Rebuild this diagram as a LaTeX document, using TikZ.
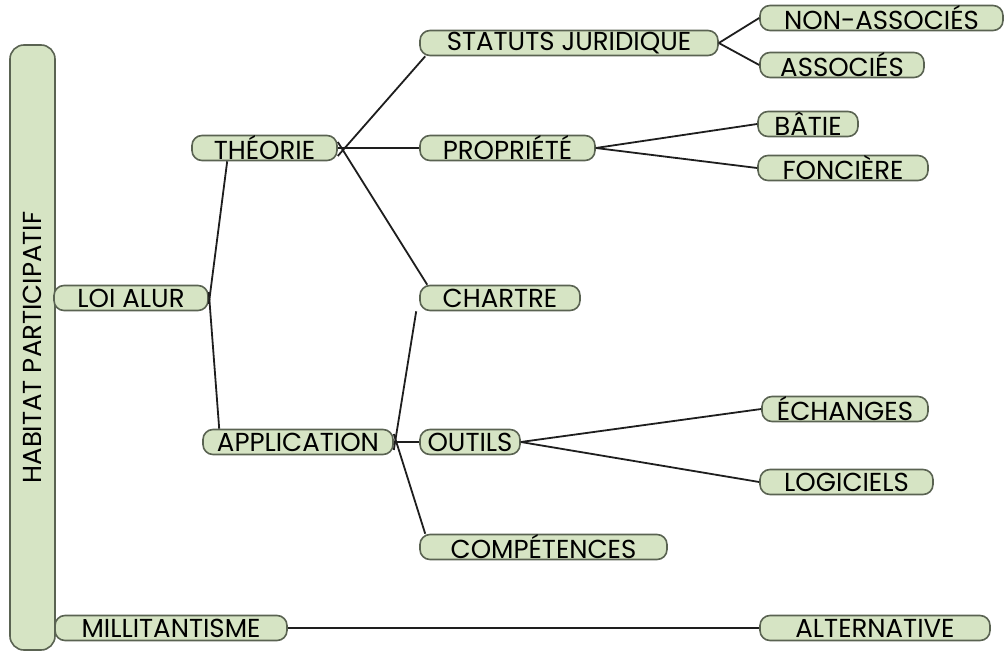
\documentclass[tikz,border=0pt]{standalone}
\usepackage{fontspec}
\setmainfont{Poppins}
\definecolor{boxfill}{HTML}{D6E4C4}
\definecolor{boxline}{HTML}{5A6352}
\definecolor{conn}{HTML}{1E1E1E}
\begin{document}
\begin{tikzpicture}[x=1pt,y=-1pt,
  tbox/.style={draw=boxline, fill=boxfill, line width=1.6pt, rounded corners=10pt,
    minimum height=25pt, inner sep=0pt, font=\fontsize{26}{26}\selectfont, text=black},
  link/.style={draw=conn, line width=1.8pt}]
\useasboundingbox (0,0) rectangle (1008,655);
% root
\node[tbox, minimum width=45pt, minimum height=605pt, rounded corners=14pt] (hp) at (32.5,347.5) {};
\node[rotate=90, font=\fontsize{26}{26}\selectfont] (hpt) at (hp.center) {HABITAT PARTICIPATIF};
% level 1
\node[tbox, minimum width=154pt] (loi) at (131,298) {LOI ALUR};
\node[tbox, minimum width=232pt] (mil) at (171,628) {MILLITANTISME};
% level 2
\node[tbox, minimum width=145pt] (theo) at (264.5,148) {THÉORIE};
\node[tbox, minimum width=190pt] (app) at (298,442) {APPLICATION};
% level 3
\node[tbox, minimum width=298pt] (stat) at (569,43) {STATUTS JURIDIQUE};
\node[tbox, minimum width=175pt] (prop) at (507.5,148) {PROPRIÉTÉ};
\node[tbox, minimum width=160pt] (chart) at (500,298) {CHARTRE};
\node[tbox, minimum width=100pt] (out) at (470,442) {OUTILS};
\node[tbox, minimum width=247pt] (comp) at (543.5,547) {COMPÉTENCES};
% level 4
\node[tbox, minimum width=243pt] (non) at (881.5,18) {NON-ASSOCIÉS};
\node[tbox, minimum width=164pt] (ass) at (842,65) {ASSOCIÉS};
\node[tbox, minimum width=100pt] (bat) at (808,124) {BÂTIE};
\node[tbox, minimum width=170pt] (fon) at (843,168) {FONCIÈRE};
\node[tbox, minimum width=166pt] (ech) at (845,409) {ÉCHANGES};
\node[tbox, minimum width=173pt] (log) at (846.5,482) {LOGICIELS};
\node[tbox, minimum width=230pt] (alt) at (875,628) {ALTERNATIVE};
% connectors
\draw[link] ([yshift=-6pt]loi.east) -- ([xshift=36pt]theo.south west);
\draw[link] ([yshift=6pt]loi.east) -- ([xshift=17pt]app.north west);
\draw[link] ([yshift=-8pt]theo.east) -- ([xshift=6pt]stat.south west);
\draw[link] (theo.east) -- (prop.west);
\draw[link] ([yshift=6pt]theo.east) -- ([xshift=8pt]chart.north west);
\draw[link] ([yshift=-8pt]app.east) -- ([xshift=-3pt]chart.south west);
\draw[link] (app.east) -- (out.west);
\draw[link] ([yshift=8pt]app.east) -- ([xshift=6pt]comp.north west);
\draw[link] (stat.east) -- (non.west);
\draw[link] (stat.east) -- (ass.west);
\draw[link] (prop.east) -- (bat.west);
\draw[link] (prop.east) -- (fon.west);
\draw[link] (out.east) -- (ech.west);
\draw[link] (out.east) -- (log.west);
\draw[link] (mil.east) -- (alt.west);
\end{tikzpicture}
\end{document}
